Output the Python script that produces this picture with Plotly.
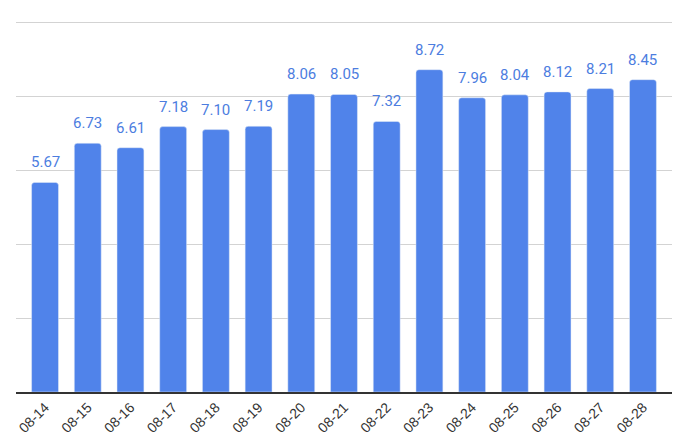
import plotly.graph_objects as go

dates = ["08-14", "08-15", "08-16", "08-17", "08-18", "08-19", "08-20", "08-21",
         "08-22", "08-23", "08-24", "08-25", "08-26", "08-27", "08-28"]
values = [5.67, 6.73, 6.61, 7.18, 7.10, 7.19, 8.06, 8.05,
          7.32, 8.72, 7.96, 8.04, 8.12, 8.21, 8.45]
labels = ["%.2f" % v for v in values]

bar_color = "#5083ea"
label_color = "#4c7ddf"

fig = go.Figure()
fig.add_trace(go.Bar(x=dates, y=values, marker_color=bar_color,
                     marker_cornerradius=3, hoverinfo="x+y"))

for d, v, t in zip(dates, values, labels):
    fig.add_annotation(x=d, y=v, text=t, showarrow=False, yanchor="bottom",
                       yshift=9, font=dict(family="Roboto", size=15, color=label_color))

fig.update_layout(
    width=680, height=446,
    margin=dict(l=16, r=8, t=15, b=54, autoexpand=False),
    plot_bgcolor="white", paper_bgcolor="white",
    bargap=0.37,
    showlegend=False,
    xaxis=dict(tickangle=-45, automargin=False,
               tickfont=dict(family="Liberation Sans", size=14, color="#333333"),
               showline=True, linecolor="#333333", linewidth=1.5,
               range=[-0.68, 14.68], ticks=""),
    yaxis=dict(range=[0, 10.2], tickvals=[2, 4, 6, 8, 10], showticklabels=False,
               gridcolor="#d3d3d3", gridwidth=1, zeroline=False, automargin=False),
)

# page body has a default 8px margin, drop it so the figure fills the window
fig.write_html("out.html", config={"displayModeBar": False},
               post_script="document.body.style.margin='0';")
